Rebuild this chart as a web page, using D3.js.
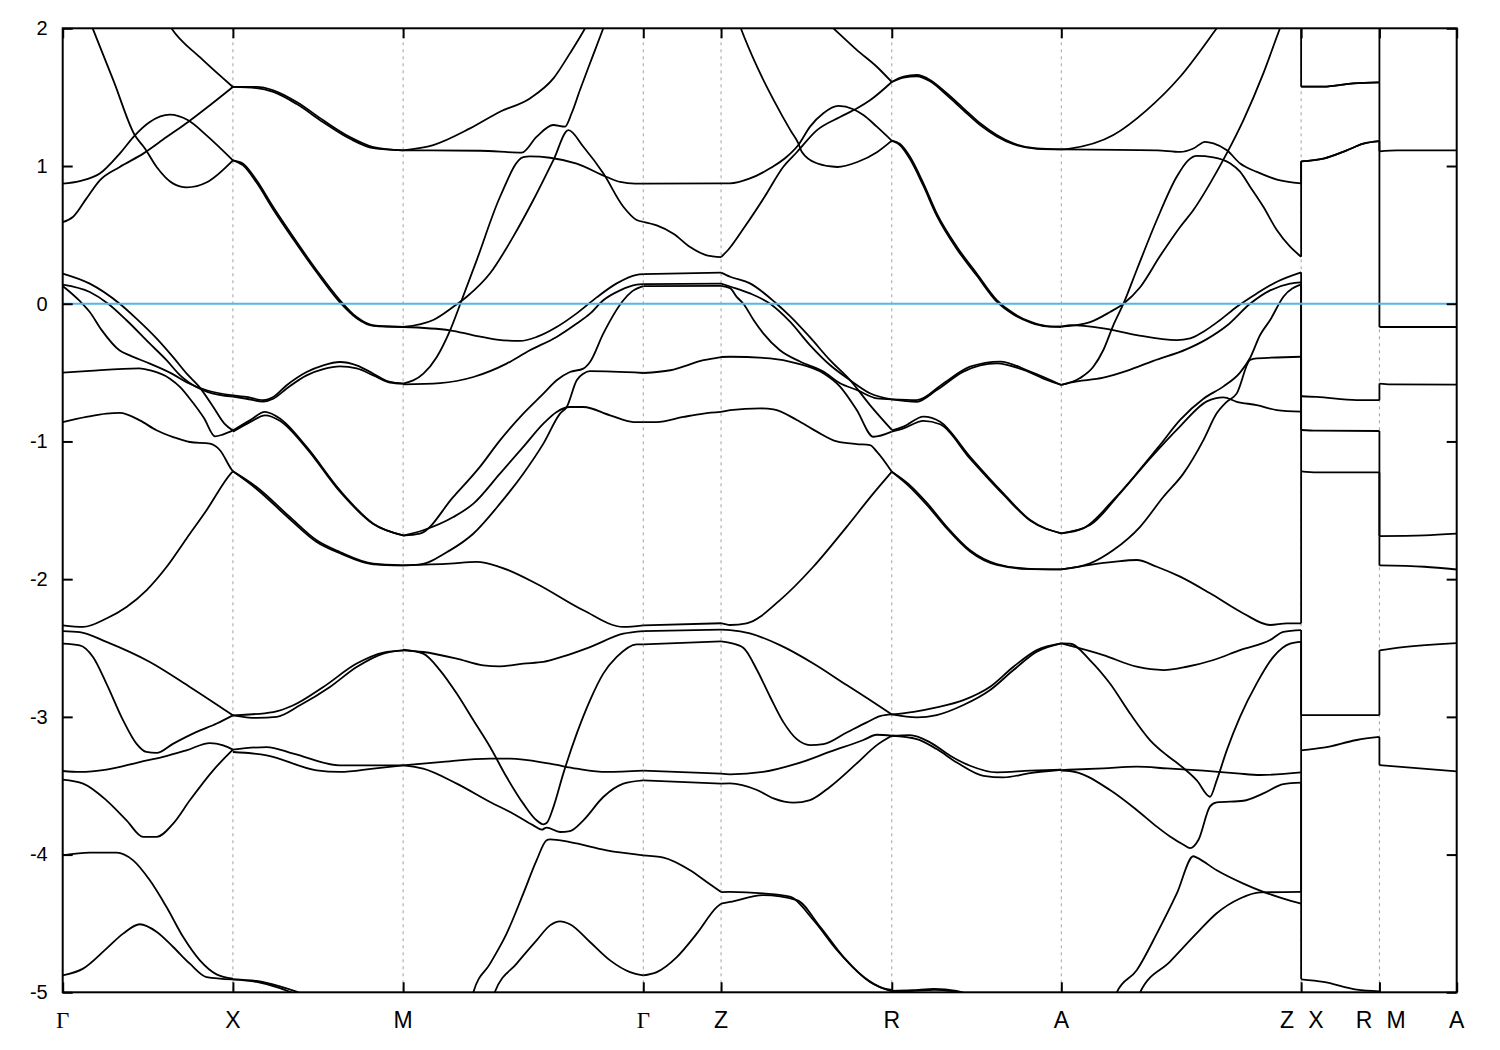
<!DOCTYPE html>
<html><head><meta charset="utf-8">
<script src="https://cdn.jsdelivr.net/npm/d3@7"></script>
<style>body{margin:0;background:#fff}</style>
</head><body>
<svg id="c" width="1500" height="1050"></svg>
<script>
// ---------- high-symmetry path ----------
const symK = [0, 1.0, 2.0, 3.411, 3.868, 4.871, 5.867, 7.276, 7.736, 8.19];
const symLabels = ["Γ", "X", "M", "Γ", "Z", "R", "A", "Z X", "R M", "A"];
const yTicks = [2, 1, 0, -1, -2, -3, -4, -5];
const eRange = [-5, 2];
const fermi = 0;

// ---------- Γ – X ----------
const gx_a = [[0.15,2.08],[0.176,2.0],[0.3,1.615],[0.424,1.223],[0.482,1.129],[0.553,0.991],[0.647,0.874],[0.729,0.845],[0.847,0.882],[1.0,1.041]];
const gx_b = [[0.6,2.08],[0.639,2.0],[0.806,1.79],[1.0,1.574]];
const gx_c = [[0,0.872],[0.1,0.891],[0.218,0.945],[0.335,1.09],[0.424,1.223],[0.512,1.32],[0.629,1.373],[0.737,1.332],[0.845,1.223],[1.0,1.041]];
const gx_d = [[0,0.593],[0.06,0.63],[0.139,0.763],[0.218,0.896],[0.335,0.993],[0.473,1.09],[0.61,1.21],[0.737,1.32],[0.865,1.441],[1.0,1.574]];
const gx_e = [[0,0.219],[0.159,0.146],[0.335,0.0],[0.433,-0.108],[0.55,-0.25],[0.65,-0.39],[0.73,-0.51],[0.8,-0.6],[0.88,-0.74],[0.95,-0.87],[1.0,-0.92]];
const gx_f = [[0,0.139],[0.159,0.085],[0.267,0.0],[0.375,-0.12],[0.512,-0.29],[0.61,-0.41],[0.69,-0.52],[0.74,-0.57],[0.85,-0.64],[1.0,-0.675]];
const gx_g = [[0,0.129],[0.1,0.02],[0.159,-0.06],[0.228,-0.19],[0.335,-0.34],[0.394,-0.375],[0.512,-0.435],[0.649,-0.513],[0.727,-0.57],[0.85,-0.63],[1.0,-0.665]];
const gx_h = [[0,-0.5],[0.16,-0.487],[0.45,-0.47],[0.51,-0.483],[0.63,-0.544],[0.69,-0.605],[0.76,-0.71],[0.83,-0.83],[0.895,-0.963],[0.94,-0.95],[1.0,-0.92]];
const gx_i = [[0,-0.859],[0.139,-0.822],[0.257,-0.798],[0.335,-0.793],[0.453,-0.847],[0.551,-0.919],[0.649,-0.968],[0.747,-1.004],[0.865,-1.016],[0.924,-1.064],[0.99,-1.2],[1.0,-1.217]];
const gx_j = [[0,-2.335],[0.12,-2.347],[0.257,-2.286],[0.375,-2.202],[0.492,-2.081],[0.61,-1.912],[0.727,-1.706],[0.845,-1.5],[0.99,-1.23],[1.0,-1.217]];
const gx_k = [[0,-2.377],[0.1,-2.384],[0.257,-2.456],[0.512,-2.602],[0.747,-2.783],[1.0,-2.989]];
const gx_l = [[0,-2.468],[0.1,-2.48],[0.178,-2.565],[0.257,-2.758],[0.355,-3.025],[0.433,-3.194],[0.492,-3.255],[0.551,-3.262],[0.65,-3.194],[0.787,-3.109],[0.905,-3.048],[1.0,-2.989]];
const gx_m = [[0,-3.393],[0.1,-3.40],[0.257,-3.383],[0.453,-3.328],[0.59,-3.291],[0.727,-3.243],[0.865,-3.19],[0.943,-3.207],[1.0,-3.238]];
const gx_n = [[0,-3.456],[0.12,-3.485],[0.257,-3.606],[0.375,-3.751],[0.473,-3.872],[0.551,-3.872],[0.649,-3.775],[0.747,-3.606],[0.884,-3.388],[1.0,-3.238]];
const gx_o = [[0,-4.005],[0.159,-3.986],[0.316,-3.986],[0.414,-4.042],[0.512,-4.187],[0.61,-4.381],[0.708,-4.599],[0.806,-4.768],[0.904,-4.87],[1.0,-4.901]];
const gx_p = [[0,-4.877],[0.12,-4.828],[0.257,-4.683],[0.355,-4.574],[0.453,-4.506],[0.551,-4.56],[0.649,-4.671],[0.747,-4.792],[0.845,-4.889],[1.0,-4.906]];

// ---------- X – M ----------
const xm_a1 = [[1.0,1.574],[1.139,1.574],[1.237,1.55],[1.375,1.465],[1.531,1.332],[1.688,1.21],[1.825,1.138],[2.0,1.114]];
const xm_a2 = [[1.0,1.574],[1.139,1.566],[1.237,1.538],[1.375,1.45],[1.531,1.318],[1.688,1.198],[1.825,1.13],[2.0,1.114]];
const xm_b1 = [[1.0,1.041],[1.06,1.017],[1.139,0.896],[1.237,0.702],[1.355,0.484],[1.492,0.243],[1.629,0.025],[1.727,-0.097],[1.825,-0.157],[2.0,-0.169]];
const xm_b2 = [[1.0,1.041],[1.06,1.005],[1.139,0.88],[1.237,0.685],[1.355,0.468],[1.492,0.228],[1.629,0.01],[1.727,-0.105],[1.825,-0.16],[2.0,-0.169]];
const xm_c1 = [[1.0,-0.665],[1.08,-0.677],[1.178,-0.70],[1.237,-0.677],[1.316,-0.592],[1.433,-0.496],[1.531,-0.447],[1.629,-0.423],[1.727,-0.447],[1.825,-0.508],[1.923,-0.568],[2.0,-0.58]];
const xm_c2 = [[1.0,-0.675],[1.08,-0.69],[1.178,-0.71],[1.237,-0.69],[1.316,-0.615],[1.433,-0.52],[1.531,-0.475],[1.629,-0.455],[1.727,-0.47],[1.825,-0.52],[1.923,-0.572],[2.0,-0.58]];
const xm_d1 = [[1.0,-0.92],[1.1,-0.847],[1.188,-0.786],[1.276,-0.834],[1.433,-1.04],[1.629,-1.355],[1.825,-1.597],[2.0,-1.682]];
const xm_d2 = [[1.0,-0.93],[1.1,-0.86],[1.19,-0.81],[1.276,-0.85],[1.433,-1.05],[1.629,-1.365],[1.825,-1.60],[2.0,-1.682]];
const xm_e1 = [[1.0,-1.217],[1.139,-1.331],[1.335,-1.549],[1.492,-1.718],[1.629,-1.803],[1.825,-1.888],[2.0,-1.9]];
const xm_e2 = [[1.0,-1.217],[1.139,-1.345],[1.335,-1.565],[1.492,-1.73],[1.629,-1.812],[1.825,-1.892],[2.0,-1.9]];
const xm_f1 = [[1.0,-2.989],[1.237,-2.965],[1.355,-2.916],[1.531,-2.783],[1.727,-2.613],[1.884,-2.533],[2.0,-2.517]];
const xm_f2 = [[1.0,-2.989],[1.139,-3.008],[1.257,-3.0],[1.394,-2.916],[1.57,-2.783],[1.727,-2.638],[1.884,-2.54],[2.0,-2.517]];
const xm_g1 = [[1.0,-3.238],[1.198,-3.219],[1.355,-3.267],[1.629,-3.352],[2.0,-3.352]];
const xm_g2 = [[1.0,-3.255],[1.198,-3.279],[1.492,-3.388],[1.629,-3.40],[1.825,-3.376],[2.0,-3.352]];
const xm_h1 = [[1.0,-4.906],[1.139,-4.918],[1.276,-4.957],[1.394,-5.005],[1.55,-5.1]];
const xm_h2 = [[1.0,-4.906],[1.139,-4.925],[1.276,-4.97],[1.38,-5.02],[1.55,-5.12]];

// ---------- M – Γ ----------
const mg_m1 = [[2.0,1.114],[2.452,1.111],[2.697,1.097],[2.785,1.213],[2.882,1.298],[2.951,1.286],[2.99,1.383],[3.039,1.552],[3.098,1.746],[3.176,2.0],[3.22,2.15]];
const mg_m2 = [[2.0,1.114],[2.177,1.152],[2.393,1.273],[2.569,1.394],[2.745,1.491],[2.883,1.636],[2.98,1.818],[3.069,2.0],[3.12,2.12]];
const mg_alpha = [[2.0,-0.58],[2.119,-0.508],[2.197,-0.388],[2.276,-0.193],[2.344,0.025],[2.432,0.315],[2.569,0.775],[2.706,1.065],[2.745,1.07],[2.863,1.06],[3.02,1.017],[3.196,0.92],[3.275,0.884],[3.363,0.872],[3.411,0.872]];
const mg_beta = [[2.0,-0.169],[2.177,-0.118],[2.295,-0.022],[2.374,0.051],[2.511,0.221],[2.647,0.487],[2.765,0.753],[2.883,1.043],[2.971,1.261],[3.059,1.14],[3.176,0.947],[3.294,0.704],[3.372,0.608],[3.411,0.595]];
const mg_flat = [[2.0,-0.169],[2.276,-0.193],[2.413,-0.229],[2.55,-0.26],[2.687,-0.27],[2.785,-0.241],[2.902,-0.169],[3.02,-0.07],[3.137,0.046],[3.255,0.148],[3.372,0.21],[3.411,0.215]];
const mg_f2 = [[2.0,-0.585],[2.217,-0.576],[2.413,-0.532],[2.608,-0.435],[2.745,-0.338],[2.902,-0.241],[3.02,-0.144],[3.098,-0.072],[3.176,0.025],[3.275,0.097],[3.372,0.138],[3.411,0.142]];
const mg_L1 = [[2.0,-1.684],[2.099,-1.67],[2.295,-1.403],[2.451,-1.185],[2.569,-0.992],[2.706,-0.798],[2.824,-0.653],[2.902,-0.556],[2.98,-0.496],[3.059,-0.471],[3.098,-0.423],[3.176,-0.217],[3.294,0.025],[3.345,0.09],[3.411,0.128]];
const mg_L2 = [[2.0,-1.684],[2.118,-1.645],[2.295,-1.549],[2.413,-1.452],[2.569,-1.234],[2.706,-1.04],[2.824,-0.871],[2.902,-0.786],[2.98,-0.75],[3.059,-0.75],[3.216,-0.81],[3.353,-0.859],[3.411,-0.859]];
const mg_L3 = [[2.0,-1.90],[2.09,-1.895],[2.275,-1.791],[2.412,-1.67],[2.569,-1.452],[2.706,-1.234],[2.824,-1.016],[2.922,-0.798],[2.961,-0.75],[3.02,-0.556],[3.059,-0.508],[3.098,-0.49],[3.411,-0.503]];
const mg_L4 = [[2.0,-1.90],[2.275,-1.887],[2.432,-1.875],[2.569,-1.912],[2.784,-2.033],[3.059,-2.226],[3.294,-2.347],[3.411,-2.335]];
const mg_L5 = [[2.0,-2.517],[2.118,-2.529],[2.315,-2.577],[2.471,-2.626],[2.569,-2.633],[2.706,-2.613],[2.824,-2.601],[2.941,-2.561],[3.098,-2.493],[3.294,-2.396],[3.411,-2.377]];
const mg_L6 = [[2.0,-2.512],[2.118,-2.541],[2.217,-2.662],[2.315,-2.831],[2.413,-3.025],[2.511,-3.219],[2.608,-3.437],[2.706,-3.63],[2.784,-3.751],[2.824,-3.78],[2.843,-3.771],[2.883,-3.655],[2.941,-3.412],[3.02,-3.122],[3.098,-2.88],[3.176,-2.686],[3.255,-2.565],[3.372,-2.473],[3.411,-2.473]];
const mg_L7 = [[2.0,-3.352],[2.217,-3.328],[2.511,-3.303],[2.628,-3.303],[2.863,-3.34],[3.02,-3.376],[3.196,-3.40],[3.411,-3.39]];
const mg_L8 = [[2.0,-3.352],[2.118,-3.376],[2.315,-3.485],[2.511,-3.618],[2.647,-3.703],[2.765,-3.788],[2.814,-3.819],[2.843,-3.804],[2.922,-3.836],[2.98,-3.829],[3.059,-3.751],[3.176,-3.582],[3.294,-3.485],[3.411,-3.461]];
const mg_L9 = [[2.38,-5.2],[2.413,-4.998],[2.511,-4.792],[2.608,-4.574],[2.706,-4.284],[2.784,-4.042],[2.843,-3.896],[2.863,-3.889],[2.98,-3.909],[3.196,-3.969],[3.411,-4.005]];
const mg_L10 = [[2.5,-5.3],[2.539,-4.998],[2.667,-4.792],[2.784,-4.623],[2.863,-4.514],[2.922,-4.485],[2.98,-4.506],[3.098,-4.635],[3.216,-4.768],[3.333,-4.853],[3.411,-4.877]];

// ---------- Γ – Z ----------
const gz_086 = [[3.411,0.872],[3.868,0.874]];
const gz_059 = [[3.411,0.595],[3.49,0.569],[3.588,0.509],[3.686,0.412],[3.784,0.352],[3.868,0.339]];
const gz_022 = [[3.411,0.215],[3.868,0.226]];
const gz_014 = [[3.411,0.142],[3.868,0.146]];
const gz_013 = [[3.411,0.128],[3.868,0.13]];
const gz_m05 = [[3.411,-0.503],[3.57,-0.483],[3.765,-0.41],[3.868,-0.387]];
const gz_m086 = [[3.411,-0.859],[3.49,-0.859],[3.647,-0.822],[3.765,-0.798],[3.868,-0.786]];
const gz_m233 = [[3.411,-2.335],[3.868,-2.32]];
const gz_m238 = [[3.411,-2.377],[3.868,-2.367]];
const gz_m247 = [[3.411,-2.473],[3.868,-2.452]];
const gz_m339 = [[3.411,-3.39],[3.868,-3.412]];
const gz_m346 = [[3.411,-3.461],[3.868,-3.485]];
const gz_m400 = [[3.411,-4.005],[3.53,-4.022],[3.686,-4.114],[3.784,-4.199],[3.868,-4.272]];
const gz_m488 = [[3.411,-4.877],[3.49,-4.853],[3.608,-4.744],[3.725,-4.574],[3.843,-4.381],[3.868,-4.356]];

// ---------- Z – R ----------
const zr_1 = [[3.94,2.15],[3.984,2.0],[4.08,1.719],[4.178,1.477],[4.276,1.259],[4.322,1.165],[4.342,1.104],[4.43,1.02],[4.551,0.993],[4.669,1.029],[4.786,1.102],[4.871,1.184]];
const zr_2 = [[3.868,0.339],[3.909,0.39],[4.007,0.559],[4.124,0.777],[4.234,0.995],[4.313,1.1],[4.43,1.259],[4.567,1.356],[4.665,1.417],[4.743,1.477],[4.871,1.61]];
const zr_3 = [[3.868,0.874],[3.92,0.874],[4.038,0.91],[4.156,0.983],[4.254,1.067],[4.322,1.153],[4.391,1.286],[4.469,1.383],[4.557,1.436],[4.645,1.412],[4.704,1.37],[4.783,1.286],[4.871,1.184]];
const zr_4 = [[4.45,2.09],[4.528,2.0],[4.665,1.843],[4.783,1.721],[4.871,1.61]];
const zr_5 = [[3.868,0.226],[3.921,0.196],[4.038,0.148],[4.194,0.0],[4.273,-0.09],[4.39,-0.243],[4.508,-0.41],[4.626,-0.555],[4.743,-0.736],[4.871,-0.916]];
const zr_6 = [[3.868,0.146],[3.921,0.125],[4.038,0.075],[4.156,0.0],[4.273,-0.13],[4.39,-0.3],[4.508,-0.445],[4.626,-0.555],[4.743,-0.65],[4.871,-0.694]];
const zr_7 = [[3.868,0.13],[3.921,0.113],[3.96,0.05],[3.999,0.0],[4.06,-0.12],[4.116,-0.215],[4.214,-0.338],[4.332,-0.42],[4.469,-0.493],[4.567,-0.577],[4.665,-0.626],[4.783,-0.687],[4.871,-0.694]];
const zr_8 = [[3.868,-0.387],[3.921,-0.385],[4.156,-0.397],[4.313,-0.433],[4.469,-0.505],[4.567,-0.602],[4.665,-0.771],[4.763,-0.966],[4.871,-0.929]];
const zr_9 = [[3.868,-0.786],[3.921,-0.772],[4.097,-0.76],[4.176,-0.767],[4.313,-0.844],[4.431,-0.929],[4.548,-1.0],[4.665,-1.019],[4.743,-1.026],[4.783,-1.074],[4.871,-1.22]];
const zr_10 = [[3.868,-2.32],[3.921,-2.333],[4.018,-2.321],[4.214,-2.152],[4.41,-1.91],[4.606,-1.62],[4.763,-1.377],[4.871,-1.22]];
const zr_11 = [[3.868,-2.367],[3.921,-2.37],[4.038,-2.394],[4.214,-2.479],[4.41,-2.612],[4.606,-2.769],[4.743,-2.878],[4.871,-2.982]];
const zr_12 = [[3.868,-2.452],[3.921,-2.463],[4.0,-2.50],[4.079,-2.66],[4.156,-2.854],[4.235,-3.04],[4.313,-3.162],[4.391,-3.205],[4.469,-3.198],[4.606,-3.113],[4.724,-3.04],[4.802,-2.994],[4.871,-2.982]];
const zr_13 = [[3.868,-3.412],[3.921,-3.417],[4.115,-3.40],[4.313,-3.34],[4.509,-3.253],[4.704,-3.168],[4.783,-3.13],[4.871,-3.137]];
const zr_14 = [[3.868,-3.485],[3.921,-3.483],[4.079,-3.531],[4.176,-3.592],[4.294,-3.623],[4.391,-3.604],[4.509,-3.507],[4.665,-3.338],[4.783,-3.205],[4.871,-3.137]];
const zr_15 = [[3.868,-4.272],[3.921,-4.271],[4.115,-4.282],[4.272,-4.306],[4.41,-4.475],[4.548,-4.693],[4.704,-4.887],[4.822,-4.971],[4.871,-4.983]];
const zr_16 = [[3.868,-4.356],[3.921,-4.344],[4.115,-4.295],[4.313,-4.331],[4.45,-4.525],[4.587,-4.743],[4.743,-4.925],[4.871,-4.993]];

// ---------- R – A ----------
const ra_1a = [[4.871,1.61],[4.94,1.649],[5.018,1.661],[5.096,1.625],[5.194,1.528],[5.292,1.419],[5.39,1.31],[5.488,1.225],[5.586,1.164],[5.723,1.128],[5.867,1.121]];
const ra_1b = [[4.871,1.61],[4.94,1.642],[5.018,1.652],[5.096,1.615],[5.194,1.515],[5.292,1.405],[5.39,1.297],[5.488,1.215],[5.586,1.158],[5.723,1.125],[5.867,1.121]];
const ra_2a = [[4.871,1.184],[4.92,1.16],[4.978,1.067],[5.057,0.874],[5.135,0.656],[5.253,0.414],[5.37,0.22],[5.488,0.027],[5.586,-0.07],[5.684,-0.13],[5.782,-0.162],[5.867,-0.167]];
const ra_2b = [[4.871,1.184],[4.92,1.15],[4.978,1.05],[5.057,0.855],[5.135,0.64],[5.253,0.398],[5.37,0.205],[5.488,0.015],[5.586,-0.078],[5.684,-0.135],[5.782,-0.164],[5.867,-0.167]];
const ra_3 = [[4.871,-0.694],[5.018,-0.712],[5.135,-0.627],[5.292,-0.493],[5.488,-0.433],[5.645,-0.481],[5.782,-0.554],[5.867,-0.59]];
const ra_4 = [[4.871,-0.694],[5.018,-0.70],[5.174,-0.579],[5.331,-0.457],[5.508,-0.42],[5.684,-0.493],[5.867,-0.59]];
const ra_5 = [[4.871,-0.92],[4.94,-0.893],[5.057,-0.82],[5.155,-0.857],[5.331,-1.111],[5.527,-1.377],[5.684,-1.571],[5.867,-1.667]];
const ra_6 = [[4.871,-0.929],[4.94,-0.905],[5.057,-0.85],[5.155,-0.875],[5.331,-1.125],[5.527,-1.387],[5.684,-1.575],[5.867,-1.667]];
const ra_7 = [[4.871,-1.22],[4.97,-1.31],[5.08,-1.45],[5.194,-1.62],[5.331,-1.79],[5.488,-1.89],[5.684,-1.925],[5.867,-1.929]];
const ra_8 = [[4.871,-1.22],[4.97,-1.322],[5.08,-1.465],[5.194,-1.632],[5.331,-1.8],[5.488,-1.897],[5.684,-1.927],[5.867,-1.929]];
const ra_9 = [[4.871,-2.982],[5.0,-2.963],[5.135,-2.931],[5.292,-2.878],[5.449,-2.781],[5.586,-2.636],[5.723,-2.515],[5.867,-2.466]];
const ra_10 = [[4.871,-2.982],[5.018,-3.004],[5.135,-2.987],[5.292,-2.914],[5.449,-2.805],[5.586,-2.66],[5.723,-2.527],[5.867,-2.466]];
const ra_11 = [[4.871,-3.137],[4.978,-3.132],[5.096,-3.185],[5.214,-3.282],[5.331,-3.355],[5.488,-3.403],[5.684,-3.391],[5.867,-3.384]];
const ra_12 = [[4.871,-3.137],[5.018,-3.161],[5.135,-3.234],[5.253,-3.331],[5.41,-3.428],[5.527,-3.44],[5.684,-3.408],[5.867,-3.384]];
const ra_13 = [[4.871,-4.99],[4.99,-4.985],[5.12,-4.975],[5.25,-4.99],[5.35,-5.03],[5.5,-5.15]];
const ra_14 = [[4.871,-4.993],[5.0,-4.99],[5.12,-4.982],[5.22,-4.992],[5.3,-5.02],[5.45,-5.15]];

// ---------- A – Z ----------
const az_u1 = [[5.867,1.121],[5.918,1.127],[6.173,1.225],[6.369,1.406],[6.565,1.648],[6.78,2.0],[6.85,2.12]];
const az_u2 = [[5.867,1.121],[6.43,1.114],[6.565,1.102],[6.643,1.127],[6.712,1.176],[6.761,1.164],[6.84,1.114],[6.918,1.018],[7.016,0.957],[7.134,0.902],[7.276,0.874]];
const az_alpha = [[5.867,-0.59],[5.977,-0.54],[6.055,-0.458],[6.114,-0.336],[6.173,-0.155],[6.232,0.0],[6.31,0.245],[6.428,0.608],[6.545,0.922],[6.614,1.043],[6.663,1.073],[6.76,1.063],[6.858,1.02],[6.917,0.959],[6.976,0.85],[7.054,0.704],[7.133,0.535],[7.211,0.414],[7.276,0.341]];
const az_beta = [[5.867,-0.167],[6.036,-0.133],[6.153,-0.06],[6.232,0.0],[6.33,0.12],[6.447,0.346],[6.565,0.557],[6.643,0.68],[6.741,0.874],[6.839,1.092],[6.937,1.334],[7.054,1.673],[7.152,2.0],[7.19,2.12]];
const az_flat = [[5.867,-0.167],[5.918,-0.155],[6.114,-0.179],[6.31,-0.228],[6.545,-0.264],[6.624,-0.252],[6.702,-0.203],[6.8,-0.118],[6.898,-0.022],[7.016,0.075],[7.134,0.16],[7.276,0.228]];
const az_f2 = [[5.867,-0.59],[5.918,-0.573],[6.114,-0.537],[6.251,-0.488],[6.408,-0.415],[6.604,-0.33],[6.722,-0.257],[6.839,-0.16],[6.976,0.0],[7.094,0.097],[7.211,0.146],[7.276,0.155]];
const az_A1 = [[5.867,-1.667],[5.996,-1.631],[6.173,-1.425],[6.31,-1.232],[6.447,-1.026],[6.565,-0.844],[6.702,-0.69],[6.82,-0.6],[6.917,-0.5],[6.976,-0.394],[7.035,-0.227],[7.094,-0.118],[7.172,0.051],[7.276,0.14]];
const az_A2 = [[5.867,-1.667],[6.036,-1.607],[6.212,-1.377],[6.389,-1.123],[6.565,-0.89],[6.722,-0.709],[6.82,-0.68],[6.898,-0.712],[7.015,-0.736],[7.133,-0.772],[7.276,-0.784]];
const az_A3 = [[5.867,-1.929],[6.036,-1.886],[6.173,-1.789],[6.33,-1.62],[6.467,-1.402],[6.585,-1.232],[6.702,-0.99],[6.78,-0.796],[6.839,-0.712],[6.898,-0.651],[6.976,-0.409],[7.015,-0.397],[7.276,-0.385]];
const az_A4 = [[5.867,-1.929],[6.173,-1.874],[6.31,-1.861],[6.428,-1.91],[6.565,-1.982],[6.741,-2.103],[6.937,-2.249],[7.094,-2.333],[7.192,-2.321],[7.276,-2.321]];
const az_gentle = [[5.867,-2.466],[6.114,-2.551],[6.31,-2.636],[6.467,-2.66],[6.604,-2.636],[6.761,-2.587],[6.917,-2.515],[7.094,-2.442],[7.172,-2.382],[7.276,-2.37]];
const az_steep = [[5.867,-2.466],[5.918,-2.468],[6.036,-2.589],[6.153,-2.758],[6.271,-2.976],[6.389,-3.17],[6.487,-3.279],[6.565,-3.352],[6.663,-3.461],[6.741,-3.58],[6.78,-3.461],[6.839,-3.243],[6.917,-3.0],[7.015,-2.757],[7.113,-2.564],[7.211,-2.468],[7.276,-2.455]];
const az_339 = [[5.867,-3.386],[6.114,-3.374],[6.31,-3.362],[6.487,-3.374],[6.702,-3.391],[6.898,-3.41],[7.035,-3.422],[7.276,-3.403]];
const az_dip = [[5.867,-3.39],[5.918,-3.393],[6.153,-3.531],[6.31,-3.676],[6.428,-3.797],[6.506,-3.869],[6.585,-3.929],[6.624,-3.953],[6.673,-3.892],[6.741,-3.65],[6.78,-3.621],[6.937,-3.609],[7.054,-3.556],[7.172,-3.488],[7.276,-3.478]];
const az_b1 = [[6.16,-5.15],[6.193,-5.0],[6.31,-4.84],[6.428,-4.574],[6.545,-4.284],[6.643,-4.012],[6.663,-4.022],[6.78,-4.114],[6.937,-4.211],[7.054,-4.271],[7.172,-4.319],[7.276,-4.356]];
const az_b2 = [[6.29,-5.15],[6.33,-5.0],[6.506,-4.777],[6.663,-4.571],[6.78,-4.426],[6.917,-4.319],[7.035,-4.275],[7.276,-4.271]];

// ---------- X – R (kz line) ----------
const xr_157 = [[7.276,1.576],[7.407,1.576],[7.583,1.6],[7.736,1.608]];
const xr_103 = [[7.276,1.034],[7.407,1.054],[7.544,1.114],[7.642,1.162],[7.736,1.18]];
const xr_067 = [[7.276,-0.672],[7.368,-0.677],[7.603,-0.70],[7.736,-0.70]];
const xr_092 = [[7.276,-0.917],[7.368,-0.922],[7.736,-0.924]];
const xr_121 = [[7.276,-1.217],[7.368,-1.224],[7.736,-1.224]];
const xr_298 = [[7.276,-2.987],[7.736,-2.987]];
const xr_324 = [[7.276,-3.243],[7.407,-3.224],[7.603,-3.168],[7.736,-3.146]];
const xr_490 = [[7.276,-4.906],[7.407,-4.925],[7.603,-4.981],[7.736,-4.993]];

// ---------- M – A (kz line) ----------
const ma_111 = [[7.736,1.107],[7.84,1.114],[8.19,1.114]];
const ma_017 = [[7.736,-0.169],[8.19,-0.169]];
const ma_059 = [[7.736,-0.58],[7.8,-0.585],[8.19,-0.587]];
const ma_168 = [[7.736,-1.687],[8.0,-1.682],[8.19,-1.67]];
const ma_190 = [[7.736,-1.90],[8.0,-1.91],[8.19,-1.93]];
const ma_252 = [[7.736,-2.517],[7.876,-2.493],[8.19,-2.464]];
const ma_335 = [[7.736,-3.35],[8.19,-3.396]];

// band continuity across the path breaks: [energy before, energy after]
const zxJumps = [[2.3,1.576],[0.874,1.034],[0.341,1.034],[0.228,-0.672],[0.14,-0.917],[-0.385,-1.217],[-2.321,-1.217],[-2.37,-2.987],[-2.455,-3.243],[-4.271,-3.243],[-3.478,-4.906]];
const rmJumps = [[1.608,2.3],[1.608,1.107],[1.18,-0.169],[-0.70,-0.58],[-0.924,-1.687],[-1.224,-1.90],[-2.987,-2.517],[-3.146,-3.35],[-4.993,-5.3]];

const bands = [
  gx_a,gx_b,gx_c,gx_d,gx_e,gx_f,gx_g,gx_h,gx_i,gx_j,gx_k,gx_l,gx_m,gx_n,gx_o,gx_p,
  xm_a1,xm_a2,xm_b1,xm_b2,xm_c1,xm_c2,xm_d1,xm_d2,xm_e1,xm_e2,xm_f1,xm_f2,xm_g1,xm_g2,xm_h1,xm_h2,
  mg_m1,mg_m2,mg_alpha,mg_beta,mg_flat,mg_f2,mg_L1,mg_L2,mg_L3,mg_L4,mg_L5,mg_L6,mg_L7,mg_L8,mg_L9,mg_L10,
  gz_086,gz_059,gz_022,gz_014,gz_013,gz_m05,gz_m086,gz_m233,gz_m238,gz_m247,gz_m339,gz_m346,gz_m400,gz_m488,
  zr_1,zr_2,zr_3,zr_4,zr_5,zr_6,zr_7,zr_8,zr_9,zr_10,zr_11,zr_12,zr_13,zr_14,zr_15,zr_16,
  ra_1a,ra_1b,ra_2a,ra_2b,ra_3,ra_4,ra_5,ra_6,ra_7,ra_8,ra_9,ra_10,ra_11,ra_12,ra_13,ra_14,
  az_u1,az_u2,az_alpha,az_beta,az_flat,az_f2,az_A1,az_A2,az_A3,az_A4,az_gentle,az_steep,az_339,az_dip,az_b1,az_b2,
  xr_157,xr_157,xr_103,xr_103,xr_067,xr_092,xr_121,xr_298,xr_324,xr_490,
  ma_111,ma_017,ma_059,ma_168,ma_190,ma_252,ma_335
];

// ---------- drawing ----------
const svg = d3.select("#c");
const x = d3.scaleLinear().domain([symK[0], symK[symK.length-1]]).range([62.7, 1456.7]);
const y = d3.scaleLinear().domain(eRange).range([992.3, 28.3]);
const X0 = x.range()[0], X1 = x.range()[1];
const Y0 = y(eRange[1]), Y1 = y(eRange[0]);

svg.append("rect").attr("width",1500).attr("height",1050).attr("fill","#fff");
svg.append("defs").append("clipPath").attr("id","clip")
  .append("rect").attr("x",X0).attr("y",Y0).attr("width",X1-X0).attr("height",Y1-Y0);

// vertical dashed grid at high-symmetry points
svg.append("g").selectAll("line").data(symK.slice(1,-1)).join("line")
  .attr("x1",d=>x(d)).attr("x2",d=>x(d)).attr("y1",Y0).attr("y2",Y1)
  .attr("stroke","#a0a0a0").attr("stroke-width",1).attr("stroke-dasharray","3,4");

const gB = svg.append("g").attr("clip-path","url(#clip)");
const line = d3.line().x(d=>x(d[0])).y(d=>y(d[1])).curve(d3.curveMonotoneX);
gB.selectAll("path.band").data(bands).join("path").attr("class","band")
  .attr("d",line).attr("fill","none").attr("stroke","#000")
  .attr("stroke-width",1.8).attr("stroke-linejoin","round");

const kZX = symK[7], kRM = symK[8];
gB.selectAll("line.zx").data(zxJumps).join("line").attr("class","zx")
  .attr("x1",x(kZX)).attr("x2",x(kZX)).attr("y1",d=>y(d[0])).attr("y2",d=>y(d[1]))
  .attr("stroke","#000").attr("stroke-width",1.8);
gB.selectAll("line.rm").data(rmJumps).join("line").attr("class","rm")
  .attr("x1",x(kRM)).attr("x2",x(kRM)).attr("y1",d=>y(d[0])).attr("y2",d=>y(d[1]))
  .attr("stroke","#000").attr("stroke-width",1.8);

// Fermi level
svg.append("line").attr("x1",X0).attr("x2",X1).attr("y1",y(fermi)).attr("y2",y(fermi))
  .attr("stroke","#56b4e9").attr("stroke-width",2);

// axes
function styleAxis(g){
  g.select(".domain").remove();
  g.selectAll(".tick line").attr("stroke","#000").attr("stroke-width",2);
  g.selectAll("text").attr("font-family","'Liberation Sans', Arial, sans-serif").attr("font-size",20).attr("fill","#000");
}
svg.append("g").attr("transform",`translate(${X0},0)`)
  .call(d3.axisLeft(y).tickValues(yTicks).tickSize(-10).tickPadding(15).tickFormat(d=>String(d)))
  .call(styleAxis);
svg.append("g").attr("transform",`translate(${X1},0)`)
  .call(d3.axisRight(y).tickValues(yTicks).tickSize(-10).tickFormat(""))
  .call(styleAxis);
svg.append("g").attr("transform",`translate(0,${Y0})`)
  .call(d3.axisTop(x).tickValues(symK).tickSize(-10).tickFormat(""))
  .call(styleAxis);
svg.append("g").attr("transform",`translate(0,${Y1})`)
  .call(d3.axisBottom(x).tickValues(symK).tickSize(-10).tickFormat(""))
  .call(styleAxis);

// x labels
const gL = svg.append("g").attr("font-size",23).attr("fill","#000");
symK.forEach((k,i)=>{
  const lab = symLabels[i];
  const parts = lab.split(" ");
  const fam = t => t === "Γ" ? "'Liberation Serif', 'Times New Roman', serif" : "'Liberation Sans', Arial, sans-serif";
  if(parts.length === 2){
    gL.append("text").attr("x",x(k)-7).attr("y",1028).attr("text-anchor","end").attr("font-family",fam(parts[0])).text(parts[0]);
    gL.append("text").attr("x",x(k)+7).attr("y",1028).attr("text-anchor","start").attr("font-family",fam(parts[1])).text(parts[1]);
  } else {
    gL.append("text").attr("x",x(k)).attr("y",1028).attr("text-anchor","middle").attr("font-family",fam(lab)).text(lab);
  }
});

// border
svg.append("rect").attr("x",X0).attr("y",Y0).attr("width",X1-X0).attr("height",Y1-Y0)
  .attr("fill","none").attr("stroke","#000").attr("stroke-width",2);
</script>
</body></html>
